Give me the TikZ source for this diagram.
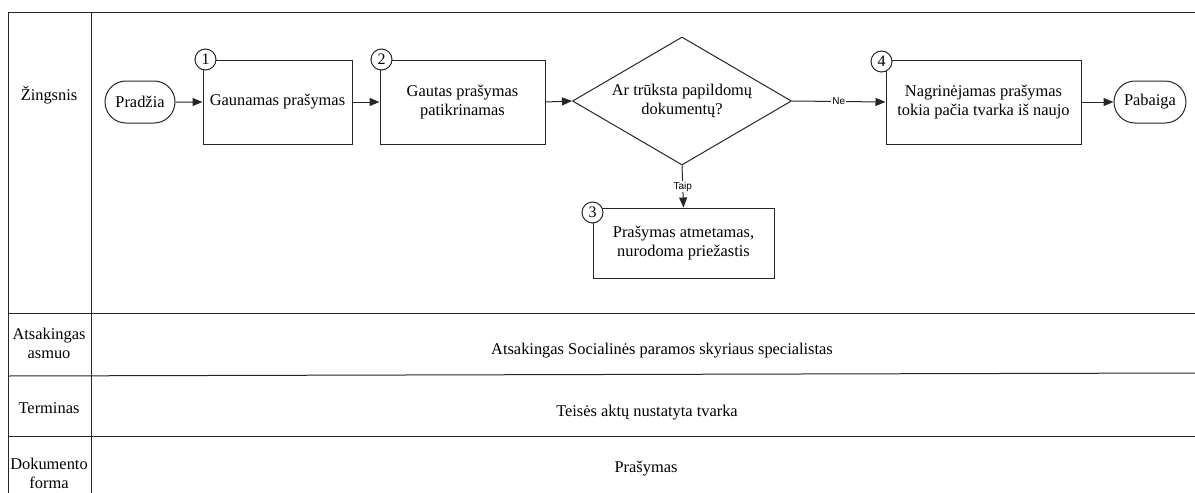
\documentclass[tikz,border=0pt]{standalone}
\usepackage{fontspec}
\setmainfont{Liberation Serif}
\newfontfamily\labelfont{Liberation Sans}
\usetikzlibrary{arrows.meta,shapes.geometric,shapes.misc}

\begin{document}
\begin{tikzpicture}[x=1pt,y=-1pt,
  line/.style={draw=black!85, line width=1pt},
  txt/.style={font=\fontsize{16.4}{19}\selectfont, align=center},
  procbox/.style={line, txt, rectangle, inner sep=0pt, minimum height=84pt},
  term/.style={line, txt, rounded rectangle, minimum height=42pt, inner sep=0pt},
  badge/.style={line, fill=white, circle, minimum size=21pt, inner sep=0pt,
    font=\fontsize{16}{16}\selectfont},
  flow/.style={line, -{Triangle[length=10pt,width=8pt]}},
  tag/.style={font=\labelfont\fontsize{10}{10}\selectfont, fill=white, inner sep=1pt},
  cell/.style={txt},
]
\useasboundingbox (0,0) rectangle (1195,493);

% swimlane table
\draw[line] (1195,12) -- (8,12) -- (8,493);
\draw[line] (91,12) -- (91,493);
\draw[line] (8,313) -- (1195,313);
\draw[line] (8,376) -- (1195,373);
\draw[line] (8,436) -- (1195,436);

\node[cell] (rowstep) at (49,95) {Žingsnis};
\node[cell] (rowresp) at (49,343) {Atsakingas\\asmuo};
\node[cell] (rowterm) at (49,408) {Terminas};
\node[cell] (rowdoc)  at (49,473) {Dokumento\\forma};

\node[cell] (resp) at (662,351) {Atsakingas Socialinės paramos skyriaus specialistas};
\node[cell] (term) at (647,413) {Teisės aktų nustatyta tvarka};
\node[cell] (doc)  at (646,469) {Prašymas};

% process flow
\node[term, minimum width=70pt] (start) at (140,102) {Pradžia};
\node[procbox, minimum width=149pt] (b1) at (277.5,102) {Gaunamas prašymas};
\node[procbox, minimum width=165pt] (b2) at (462.5,102) {Gautas prašymas\\patikrinamas};
\node[line, txt, diamond, aspect=1.71, inner sep=0pt, minimum width=219pt, minimum height=128pt]
  (dec) at (682,101) {Ar trūksta papildomų\\dokumentų?};
\node[procbox, minimum width=181pt, minimum height=70pt] (b3) at (683.5,243)
  {Prašymas atmetamas,\\nurodoma priežastis};
\node[procbox, minimum width=195pt] (b4) at (983.5,102)
  {Nagrinėjamas prašymas\\tokia pačia tvarka iš naujo};
\node[term, minimum width=72pt] (end) at (1150,102) {Pabaiga};

\node[badge, xshift=3pt] (n1) at (b1.north west) {1};
\node[badge, xshift=2pt] (n2) at (b2.north west) {2};
\node[badge, yshift=-5pt] (n3) at (b3.north west) {3};
\node[badge, xshift=-4pt, yshift=-2pt] (n4) at (b4.north west) {4};

\draw[flow] (start) -- (b1);
\draw[flow] (b1) -- (b2);
\draw[flow] (b2.east) -- (dec.west);
\draw[flow] (dec.east) -- node[tag]{Ne} (b4.west);
\draw[flow] (dec.south) -- node[tag]{Taip} (b3.north);
\draw[flow] (b4) -- (end);
\end{tikzpicture}
\end{document}
